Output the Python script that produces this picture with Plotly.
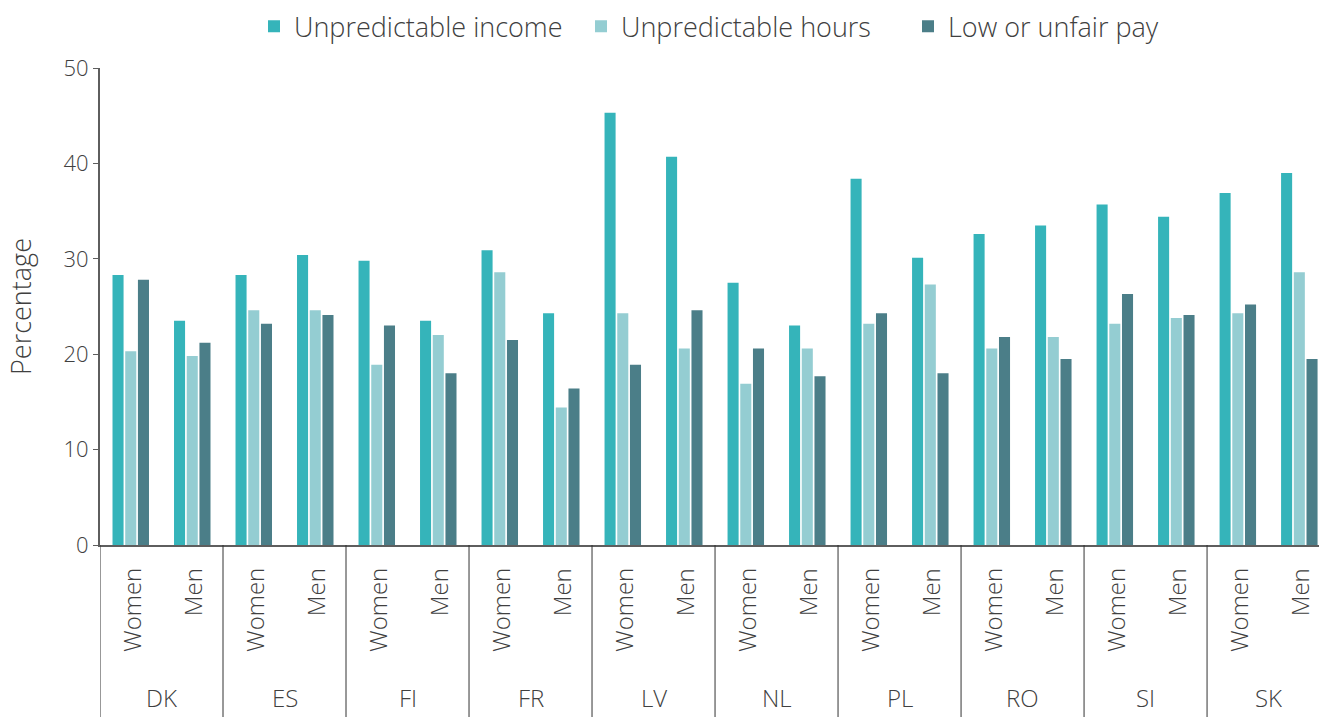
import plotly.graph_objects as go

# Survey shares by country and gender (percent)
countries = ["DK", "ES", "FI", "FR", "LV", "NL", "PL", "RO", "SI", "SK"]
genders = ["Women", "Men"]

unpredictable_income = [28.3, 23.5, 28.3, 30.4, 29.8, 23.5, 30.9, 24.3, 45.3, 40.7,
                        27.5, 23.0, 38.4, 30.1, 32.6, 33.5, 35.7, 34.4, 36.9, 39.0]
unpredictable_hours = [20.3, 19.8, 24.6, 24.6, 18.9, 22.0, 28.6, 14.4, 24.3, 20.6,
                       16.9, 20.6, 23.2, 27.3, 20.6, 21.8, 23.2, 23.8, 24.3, 28.6]
low_unfair_pay = [27.8, 21.2, 23.2, 24.1, 23.0, 18.0, 21.5, 16.4, 18.9, 24.6,
                  20.6, 17.7, 24.3, 18.0, 21.8, 19.5, 26.3, 24.1, 25.2, 19.5]

series = [
    ("Unpredictable income", unpredictable_income, "#35B4BA"),
    ("Unpredictable hours", unpredictable_hours, "#94CDD2"),
    ("Low or unfair pay", low_unfair_pay, "#4B7E88"),
]

slots = list(range(len(countries) * len(genders)))
font_family = "Open Sans, sans-serif"
text_color = "#404040"
light = 300

fig = go.Figure()
for name, values, color in series:
    fig.add_trace(go.Bar(x=slots, y=values, name=name, marker_color=color,
                         marker_line_width=0))

annotations = []
shapes = []
for ci, country in enumerate(countries):
    for gi, gender in enumerate(genders):
        slot = ci * len(genders) + gi
        annotations.append(dict(
            x=slot, y=0, xref="x", yref="paper", text=gender, showarrow=False,
            textangle=-90, yanchor="top", xanchor="center", yshift=-21,
            font=dict(family=font_family, size=24, color=text_color, weight=light)))
    center = ci * len(genders) + (len(genders) - 1) / 2
    annotations.append(dict(
        x=center, y=0, xref="x", yref="paper", text=country, showarrow=False,
        yanchor="middle", xanchor="center", yshift=-152,
        font=dict(family=font_family, size=24, color=text_color, weight=light)))
    boundary = ci * len(genders) - 0.5
    shapes.append(dict(type="line", xref="x", yref="paper", x0=boundary, x1=boundary,
                       y0=0, y1=-0.37, line=dict(color="#333333", width=1)))

fig.update_layout(
    width=1319, height=717,
    margin=dict(l=100, r=0, t=68, b=172),
    paper_bgcolor="white", plot_bgcolor="white",
    barmode="group", bargap=0.38, bargroupgap=0.13,
    font=dict(family=font_family, size=22, color=text_color, weight=light),
    legend=dict(orientation="h", x=254 / 1319, xanchor="left", xref="container",
                y=0.997, yanchor="top", yref="container", itemclick=False,
                entrywidth=282, entrywidthmode="pixels",
                font=dict(size=27, color=text_color, weight=light)),
    annotations=annotations, shapes=shapes,
    xaxis=dict(range=[-0.5, 19.32], showticklabels=False, showgrid=False,
               zeroline=False, showline=True, linecolor="#5e5e5e", linewidth=2,
               ticks="", fixedrange=True),
    yaxis=dict(range=[0, 50], dtick=10, showgrid=False, zeroline=False,
               showline=True, linecolor="#5e5e5e", linewidth=2,
               ticks="outside", ticklen=5, tickcolor="#5e5e5e",
               tickfont=dict(size=22, color=text_color, weight=light),
               title=dict(text="Percentage", standoff=24,
                          font=dict(size=27, color=text_color, weight=light))),
)

fig.write_html("out.html")
